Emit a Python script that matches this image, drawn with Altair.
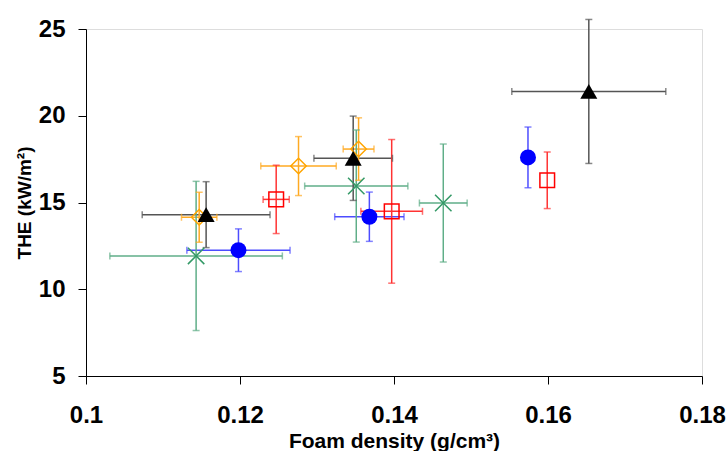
import altair as alt
import pandas as pd

# ---- data ----
series_names = ["circle", "square", "diamond", "triangle", "xmark"]

circle_x = [0.1198, 0.1368, 0.1574]
circle_y = [12.25, 14.18, 17.60]
circle_xerr = [0.0067, 0.0045, 0.0]
circle_yerr = [1.23, 1.42, 1.75]

square_x = [0.1247, 0.1397, 0.1599]
square_y = [15.18, 14.49, 16.28]
square_xerr = [0.0017, 0.0040, 0.0]
square_yerr = [1.97, 4.14, 1.63]

diamond_x = [0.1147, 0.1276, 0.1354]
diamond_y = [14.15, 17.10, 18.08]
diamond_xerr = [0.0023, 0.0049, 0.0020]
diamond_yerr = [1.44, 1.70, 1.80]

triangle_x = [0.1156, 0.1347, 0.1653]
triangle_y = [14.30, 17.55, 21.40]
triangle_xerr = [0.0083, 0.0051, 0.0100]
triangle_yerr = [1.90, 2.43, 4.15]

xmark_x = [0.1143, 0.1351, 0.1464]
xmark_y = [11.92, 15.95, 14.97]
xmark_xerr = [0.0112, 0.0067, 0.0031]
xmark_yerr = [4.30, 3.23, 3.40]

x_ticks = [0.10, 0.12, 0.14, 0.16, 0.18]
y_ticks = [5, 10, 15, 20, 25]

# ---- styles ----
marker_color = {"circle": "#0000FF", "square": "#FF0000", "diamond": "#FFA500",
                "triangle": "#000000", "xmark": "#339966"}
bar_color = {"circle": "#4D4DFF", "square": "#FF3333", "diamond": "#FFAA22",
             "triangle": "#555555", "xmark": "#5FAE88"}
marker_shape = {"circle": "circle", "square": "square", "diamond": "diamond",
                "triangle": "triangle-up", "xmark": "M-1,-1L1,1M1,-1L-1,1"}
marker_filled = {"circle": True, "square": False, "diamond": False,
                 "triangle": True, "xmark": False}
marker_size = {"circle": 256, "square": 215, "diamond": 240,
               "triangle": 290, "xmark": 270}

raw = {
    "circle": (circle_x, circle_y, circle_xerr, circle_yerr),
    "square": (square_x, square_y, square_xerr, square_yerr),
    "diamond": (diamond_x, diamond_y, diamond_xerr, diamond_yerr),
    "triangle": (triangle_x, triangle_y, triangle_xerr, triangle_yerr),
    "xmark": (xmark_x, xmark_y, xmark_xerr, xmark_yerr),
}

rows = []
for s in series_names:
    xs, ys, xe, ye = raw[s]
    for i in range(len(xs)):
        rows.append({"series": s, "x": xs[i], "y": ys[i],
                     "xlo": xs[i] - xe[i], "xhi": xs[i] + xe[i],
                     "ylo": ys[i] - ye[i], "yhi": ys[i] + ye[i],
                     "xerr": xe[i], "yerr": ye[i]})
df = pd.DataFrame(rows)

hcap_rows = []
vcap_rows = []
for r in rows:
    if r["xerr"] > 0:
        hcap_rows.append({"series": r["series"], "cx": r["xlo"], "cy": r["y"]})
        hcap_rows.append({"series": r["series"], "cx": r["xhi"], "cy": r["y"]})
    if r["yerr"] > 0:
        vcap_rows.append({"series": r["series"], "cx": r["x"], "cy": r["ylo"]})
        vcap_rows.append({"series": r["series"], "cx": r["x"], "cy": r["yhi"]})
hcaps = pd.DataFrame(hcap_rows)
vcaps = pd.DataFrame(vcap_rows)

xscale = alt.Scale(domain=[0.1, 0.18], nice=False, zero=False)
yscale = alt.Scale(domain=[5, 25], nice=False, zero=False)
cscale = alt.Scale(domain=series_names, range=[bar_color[s] for s in series_names])

FONT = "Liberation Sans"

xaxis = alt.Axis(values=x_ticks, format="~g", grid=False, tickSize=8,
                 labelFontSize=24, labelFont=FONT, labelFontWeight="bold",
                 labelColor="#000", labelPadding=19, labelFlush=False,
                 title="Foam density (g/cm³)", titleFont=FONT, titleFontSize=21,
                 titleFontWeight="bold", titleColor="#000", titleY=54,
                 domainColor="#000", tickColor="#000", labelOverlap=False)
yaxis = alt.Axis(values=y_ticks, grid=False, tickSize=8,
                 labelFontSize=24, labelFont=FONT, labelFontWeight="bold",
                 labelColor="#000", labelPadding=13, labelFlush=False,
                 title="THE (kW/m²)", titleFont=FONT, titleFontSize=19,
                 titleFontWeight="bold", titleColor="#000",
                 titleX=-62, titleBaseline="middle",
                 domainColor="#000", tickColor="#000", labelOverlap=False)

base_x = alt.X("x:Q", scale=xscale, axis=xaxis)
base_y = alt.Y("y:Q", scale=yscale, axis=yaxis)
col = alt.Color("series:N", scale=cscale, legend=None)

hbars = alt.Chart(df[df.xerr > 0]).mark_rule(strokeWidth=1.5).encode(
    x=alt.X("xlo:Q", scale=xscale, axis=xaxis), x2="xhi:Q",
    y=alt.Y("y:Q", scale=yscale, axis=yaxis), color=col)
vbars = alt.Chart(df[df.yerr > 0]).mark_rule(strokeWidth=1.5).encode(
    x=alt.X("x:Q", scale=xscale, axis=xaxis),
    y=alt.Y("ylo:Q", scale=yscale, axis=yaxis), y2="yhi:Q", color=col)
hcap_layer = alt.Chart(hcaps).mark_tick(orient="vertical", size=7, thickness=1.5).encode(
    x=alt.X("cx:Q", scale=xscale, axis=xaxis),
    y=alt.Y("cy:Q", scale=yscale, axis=yaxis), color=col)
vcap_layer = alt.Chart(vcaps).mark_tick(orient="horizontal", size=7, thickness=1.5).encode(
    x=alt.X("cx:Q", scale=xscale, axis=xaxis),
    y=alt.Y("cy:Q", scale=yscale, axis=yaxis), color=col)

layers = [hbars, vbars, hcap_layer, vcap_layer]
for s in series_names:
    filled = marker_filled[s]
    m = alt.Chart(df[df.series == s]).mark_point(
        shape=marker_shape[s], size=marker_size[s], filled=filled,
        color=marker_color[s], opacity=1,
        strokeWidth=1.5 if not filled else 0,
    ).encode(x=base_x, y=base_y)
    layers.append(m)

chart = alt.layer(*layers).properties(
    width=616, height=347,
    autosize=alt.AutoSizeParams(type="none"),
    padding={"left": 86, "top": 29, "right": 26, "bottom": 75},
).configure_view(stroke=None).configure(background="white")

chart.save("out.html", embed_options={"renderer": "svg", "actions": False})
